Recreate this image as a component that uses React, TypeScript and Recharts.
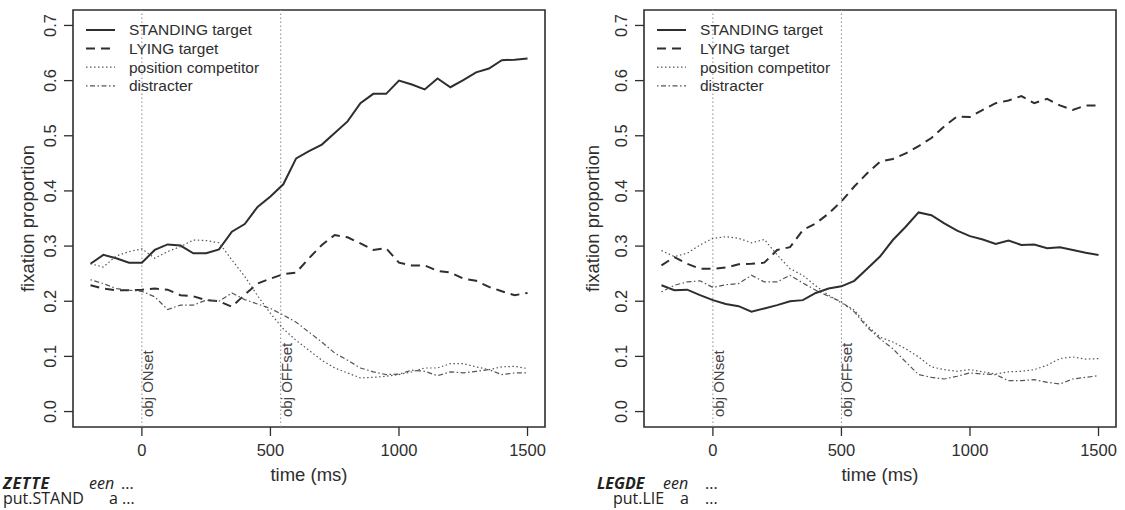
import {
  LineChart,
  Line,
  XAxis,
  YAxis,
  ReferenceLine,
  ReferenceArea,
  Legend,
} from "recharts";

const TIMES = [
  -200, -150, -100, -50, 0, 50, 100, 150, 200, 250, 300, 350, 400, 450, 500,
  550, 600, 650, 700, 750, 800, 850, 900, 950, 1000, 1050, 1100, 1150, 1200,
  1250, 1300, 1350, 1400, 1450, 1500,
];

// ZETTE (put.STAND) panel
const zetteStanding = [
  0.268, 0.284, 0.278, 0.27, 0.27, 0.293, 0.303, 0.301, 0.287, 0.287, 0.294,
  0.326, 0.34, 0.371, 0.39, 0.412, 0.459, 0.472, 0.484, 0.505, 0.526, 0.559,
  0.576, 0.576, 0.6, 0.593, 0.584, 0.604, 0.588, 0.601, 0.615, 0.622, 0.637,
  0.638, 0.64,
];
const zetteLying = [
  0.229, 0.223, 0.22, 0.22, 0.221, 0.223, 0.221, 0.211, 0.209, 0.202, 0.2,
  0.19, 0.212, 0.232, 0.241, 0.249, 0.252, 0.278, 0.302, 0.32, 0.316, 0.305,
  0.293, 0.296, 0.27, 0.265, 0.265, 0.255, 0.252, 0.241, 0.237, 0.226, 0.218,
  0.211, 0.215,
];
const zetteCompetitor = [
  0.268, 0.262, 0.282, 0.29, 0.295, 0.278, 0.29, 0.299, 0.311, 0.31, 0.306,
  0.275, 0.245, 0.21, 0.178, 0.15, 0.129, 0.111, 0.093, 0.079, 0.07, 0.061,
  0.062, 0.064, 0.067, 0.072, 0.079, 0.079, 0.087, 0.087, 0.081, 0.076, 0.081,
  0.082, 0.078,
];
const zetteDistracter = [
  0.239, 0.232, 0.223, 0.22, 0.218, 0.208, 0.185, 0.193, 0.193, 0.202, 0.2,
  0.215, 0.203, 0.195, 0.187, 0.175, 0.162, 0.144, 0.126, 0.106, 0.093, 0.079,
  0.072, 0.067, 0.068, 0.075, 0.073, 0.065, 0.072, 0.07, 0.073, 0.076, 0.067,
  0.07, 0.07,
];

// LEGDE (put.LIE) panel
const legdeStanding = [
  0.229, 0.22, 0.221, 0.211, 0.202, 0.195, 0.191, 0.181, 0.187, 0.193, 0.2,
  0.202, 0.215, 0.223, 0.227, 0.237, 0.259, 0.281, 0.311, 0.335, 0.361, 0.356,
  0.341, 0.328, 0.318, 0.312, 0.304, 0.31, 0.302, 0.303, 0.296, 0.298, 0.293,
  0.288, 0.284,
];
const legdeLying = [
  0.265, 0.28, 0.268, 0.259, 0.259, 0.261, 0.267, 0.268, 0.27, 0.293, 0.298,
  0.329, 0.341, 0.359, 0.381, 0.408, 0.432, 0.453, 0.458, 0.468, 0.481, 0.496,
  0.517, 0.535, 0.534, 0.547, 0.559, 0.564, 0.572, 0.559, 0.567, 0.555, 0.547,
  0.555, 0.555,
];
const legdeCompetitor = [
  0.292, 0.281, 0.287, 0.302, 0.314, 0.317, 0.314, 0.306, 0.312, 0.284, 0.259,
  0.247, 0.228, 0.211, 0.197, 0.184, 0.156, 0.135, 0.126, 0.114, 0.099, 0.081,
  0.076, 0.073, 0.076, 0.072, 0.068, 0.072, 0.073, 0.076, 0.084, 0.096, 0.099,
  0.095, 0.096,
];
const legdeDistracter = [
  0.217, 0.229, 0.235, 0.237, 0.225, 0.23, 0.232, 0.247, 0.235, 0.235, 0.247,
  0.233, 0.22, 0.209, 0.199, 0.181, 0.153, 0.132, 0.114, 0.09, 0.067, 0.062,
  0.059, 0.064, 0.07, 0.068, 0.067, 0.056, 0.056, 0.058, 0.053, 0.05, 0.059,
  0.062, 0.065,
];

const X_TICKS = [0, 500, 1000, 1500];
const Y_TICKS = [0, 0.1, 0.2, 0.3, 0.4, 0.5, 0.6, 0.7];
const X_DOMAIN = [-268, 1568];
const Y_DOMAIN = [-0.028, 0.728];

const INK = "#2e2e2e";
const FONT = "'Liberation Sans', Arial, sans-serif";
const CAPTION_FONT = "'Open Sans', 'Noto Sans', sans-serif";

const SERIES = [
  { key: "standing", name: "STANDING target", dash: undefined, width: 2, color: INK },
  { key: "lying", name: "LYING target", dash: "9 6", width: 2, color: INK },
  { key: "competitor", name: "position competitor", dash: "1.5 2.5", width: 1.2, color: "#555" },
  { key: "distracter", name: "distracter", dash: "1.5 2.5 5 2.5", width: 1.2, color: "#555" },
];

const buildRows = (s: number[], l: number[], c: number[], d: number[]) =>
  TIMES.map((t, i) => ({ t, standing: s[i], lying: l[i], competitor: c[i], distracter: d[i] }));

const zetteRows = buildRows(zetteStanding, zetteLying, zetteCompetitor, zetteDistracter);
const legdeRows = buildRows(legdeStanding, legdeLying, legdeCompetitor, legdeDistracter);

const XTick = ({ x, y, payload }: any) => (
  <text x={x} y={y} dy="0.71em" textAnchor="middle" fontSize={16.5} fill={INK} fontFamily={FONT}>
    {payload.value}
  </text>
);

const YTick = ({ x, y, payload }: any) => (
  <text
    x={x}
    y={y}
    transform={`rotate(-90, ${x}, ${y})`}
    textAnchor="middle"
    fontSize={16.5}
    fill={INK}
    fontFamily={FONT}
  >
    {payload.value.toFixed(1)}
  </text>
);

const VLineLabel = ({ viewBox, text }: any) => {
  if (!viewBox) return null;
  const x = viewBox.x + 11;
  const y = viewBox.y + viewBox.height - 10;
  return (
    <text x={x} y={y} transform={`rotate(-90, ${x}, ${y})`} fontSize={15} fill="#444" fontFamily={FONT}>
      {text}
    </text>
  );
};

const LegendBox = () => (
  <svg width={240} height={80}>
    {SERIES.map((s, i) => {
      const cy = 8 + i * 18.6;
      return (
        <g key={s.key}>
          <line x1={0} x2={29} y1={cy} y2={cy} stroke={s.color} strokeWidth={s.width} strokeDasharray={s.dash} />
          <text x={43} y={cy} dy="0.35em" fontSize={15.5} fill={INK} fontFamily={FONT}>
            {s.name}
          </text>
        </g>
      );
    })}
  </svg>
);

type PanelProps = {
  rows: any[];
  offsetAt: number;
  left: number;
  yTitleX: number;
};

function Panel({ rows, offsetAt, left, yTitleX }: PanelProps) {
  return (
    <div style={{ position: "absolute", left, top: 0 }}>
      <LineChart width={560} height={510} data={rows} margin={{ top: 10, right: 15, bottom: 0, left: 0 }}>
        <XAxis
          dataKey="t"
          type="number"
          domain={X_DOMAIN}
          allowDataOverflow
          ticks={X_TICKS}
          tick={(p: any) => <XTick {...p} />}
          tickSize={9}
          tickMargin={8}
          axisLine={false}
          tickLine={{ stroke: INK, strokeWidth: 1.3 }}
          height={83}
          label={(p: any) =>
            p.viewBox ? (
              <text
                x={p.viewBox.x + p.viewBox.width / 2}
                y={p.viewBox.y + 48}
                dy="0.35em"
                textAnchor="middle"
                fontSize={18.5}
                fill={INK}
                fontFamily={FONT}
              >
                time (ms)
              </text>
            ) : null
          }
        />
        <YAxis
          type="number"
          domain={Y_DOMAIN}
          allowDataOverflow
          ticks={Y_TICKS}
          tick={(p: any) => <YTick {...p} />}
          tickSize={9}
          tickMargin={8}
          axisLine={false}
          tickLine={{ stroke: INK, strokeWidth: 1.3 }}
          width={73}
          label={(p: any) => {
            if (!p.viewBox) return null;
            const x = p.viewBox.x + yTitleX;
            const y = p.viewBox.y + p.viewBox.height / 2;
            return (
              <text
                x={x}
                y={y}
                dy="0.35em"
                transform={`rotate(-90, ${x}, ${y})`}
                textAnchor="middle"
                fontSize={18.5}
                fill={INK}
                fontFamily={FONT}
              >
                fixation proportion
              </text>
            );
          }}
        />
        <ReferenceArea
          x1={X_DOMAIN[0]}
          x2={X_DOMAIN[1]}
          y1={Y_DOMAIN[0]}
          y2={Y_DOMAIN[1]}
          ifOverflow="visible"
          fill="none"
          stroke={INK}
          strokeWidth={1.6}
          fillOpacity={0}
        />
        <ReferenceLine
          x={0}
          stroke="#8a8a8a"
          strokeDasharray="1.5 2.5"
          label={<VLineLabel text="obj ONset" />}
        />
        <ReferenceLine
          x={offsetAt}
          stroke="#8a8a8a"
          strokeDasharray="1.5 2.5"
          label={<VLineLabel text="obj OFFset" />}
        />
        {SERIES.map((s) => (
          <Line
            key={s.key}
            dataKey={s.key}
            name={s.name}
            type="linear"
            stroke={s.color}
            strokeWidth={s.width}
            strokeDasharray={s.dash}
            dot={false}
            isAnimationActive={false}
          />
        ))}
        <Legend
          content={<LegendBox />}
          layout="vertical"
          align="center"
          verticalAlign="middle"
          wrapperStyle={{ left: 86, top: 22, width: 240 }}
        />
      </LineChart>
    </div>
  );
}

const captionText = { fontFamily: CAPTION_FONT, fontSize: 16, fill: "#222" };

export default function App() {
  return (
    <div
      style={{
        position: "absolute",
        left: 0,
        top: 0,
        width: 1125,
        height: 510,
        overflow: "hidden",
        background: "#fff",
      }}
    >
      <Panel rows={zetteRows} offsetAt={540} left={0} yTitleX={28} />
      <Panel rows={legdeRows} offsetAt={500} left={571} yTitleX={22} />
      <svg width={1125} height={510} style={{ position: "absolute", left: 0, top: 0, pointerEvents: "none" }}>
        <g {...captionText}>
          <text x={3} y={489} fontWeight="bold" fontStyle="italic" letterSpacing={0.8}>ZETTE</text>
          <text x={89} y={489} fontStyle="italic">een</text>
          <text x={121} y={489}>...</text>
          <text x={3} y={504}>put.STAND</text>
          <text x={109} y={504}>a</text>
          <text x={122} y={504}>...</text>

          <text x={597} y={489} fontWeight="bold" fontStyle="italic">LEGDE</text>
          <text x={663} y={489} fontStyle="italic">een</text>
          <text x={705} y={489}>...</text>
          <text x={613} y={504}>put.LIE</text>
          <text x={680} y={504}>a</text>
          <text x={705} y={504}>...</text>
        </g>
      </svg>
    </div>
  );
}
